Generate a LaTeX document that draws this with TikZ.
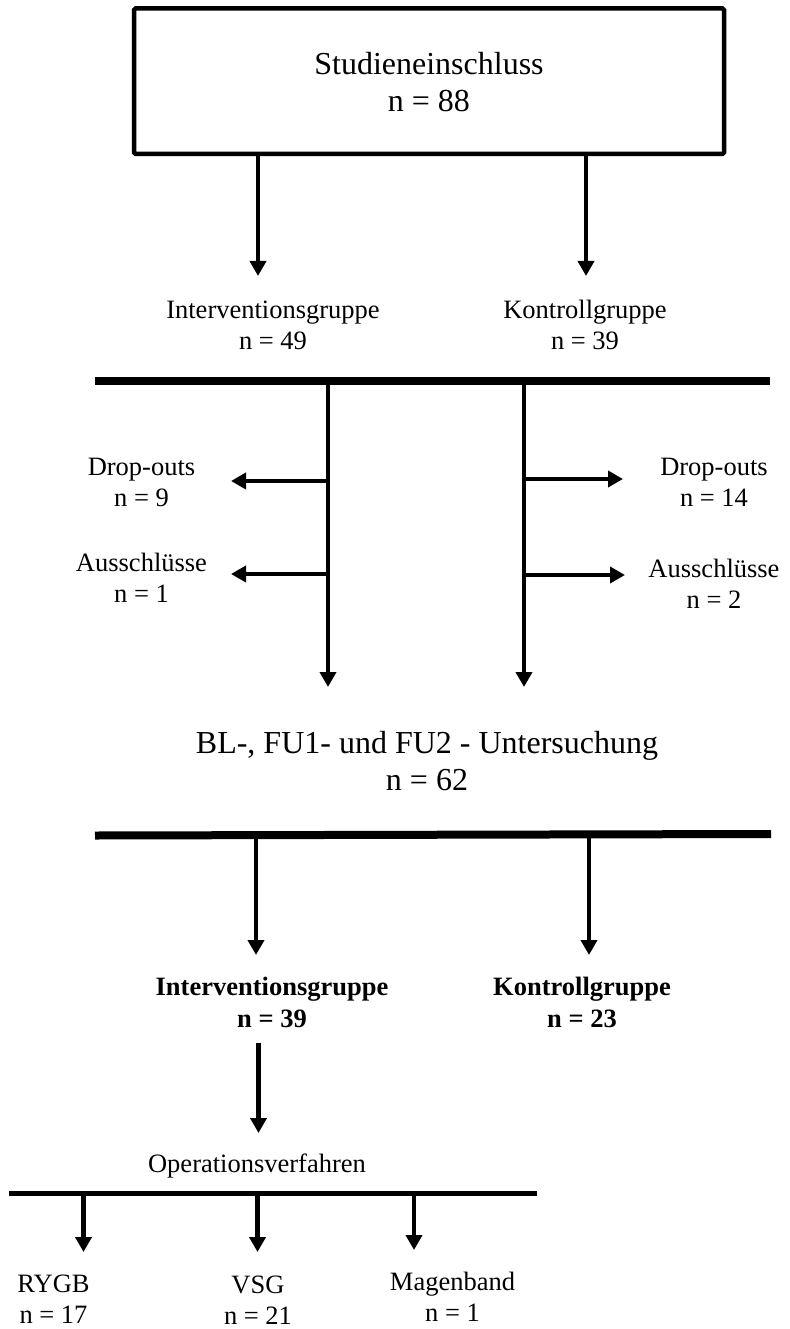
\documentclass[tikz,border=0pt]{standalone}
\usepackage{fontspec}
\setmainfont{Liberation Serif}
\usetikzlibrary{arrows.meta}
\newcommand\twoline[2]{\begin{tabular}[t]{@{}c@{}}#1\\#2\end{tabular}}
\begin{document}
\begin{tikzpicture}[x=1pt,y=-1pt,
  small/.style={inner sep=0pt, anchor=base, font=\fontsize{26.5}{31}\selectfont},
  boldlbl/.style={inner sep=0pt, anchor=base, font=\fontsize{26.5}{32}\selectfont\bfseries},
  big/.style={inner sep=0pt, anchor=base, font=\fontsize{32}{37}\selectfont},
  arr/.style={line width=4.5pt, -{Triangle[length=15pt,width=16pt]}},
  bar/.style={line width=8pt},
  thinbar/.style={line width=5pt},
]
\useasboundingbox (0,0) rectangle (789,1329);

% top box
\node[draw, line width=4.5pt, rounded corners=1.5pt, inner xsep=0pt, inner ysep=0pt,
      text height=66.5pt, text depth=79pt, minimum width=590pt, anchor=base,
      font=\fontsize{32}{37}\selectfont] (start) at (429,75)
      {\twoline{Studieneinschluss}{n = 88}};

\coordinate (a1) at (258,276);
\coordinate (a2) at (586,276);
\draw[arr] (start.south -| a1) -- (a1);
\draw[arr] (start.south -| a2) -- (a2);

\node[small] (ig1) at (273,319) {\twoline{Interventionsgruppe}{n = 49}};
\node[small] (kg1) at (585,319) {\twoline{Kontrollgruppe}{n = 39}};

% bar 1
\coordinate (b1l) at (95,381);
\coordinate (b1r) at (770,381);
\draw[bar] (b1l) -- (b1r);

\coordinate (v1) at (328,687);
\coordinate (v2) at (524,687);
\draw[arr] (b1l -| v1) -- (v1);
\draw[arr] (b1l -| v2) -- (v2);

\coordinate (d1) at (231,481);
\coordinate (x1) at (231,574);
\coordinate (d2) at (623,479);
\coordinate (x2) at (625,575);
\draw[arr] (v1 |- d1) -- (d1);
\draw[arr] ([xshift=-2pt]v1 |- x1) -- (x1);
\draw[arr] (v2 |- d2) -- (d2);
\draw[arr] (v2 |- x2) -- (x2);

\node[small] (do1) at (141.5,475) {\twoline{Drop-outs}{n = 9}};
\node[small] (au1) at (141.5,571) {\twoline{Ausschlüsse}{n = 1}};
\node[small] (do2) at (714,475) {\twoline{Drop-outs}{n = 14}};
\node[small] (au2) at (714,577) {\twoline{Ausschlüsse}{n = 2}};

\node[big] (bl) at (427,753) {\twoline{BL-, FU1- und FU2 - Untersuchung}{n = 62}};

% bar 2
\coordinate (b2l) at (95,835.5);
\coordinate (b2r) at (771,834);
\draw[bar] (b2l) -- (b2r);

\coordinate (c1) at (256,955);
\coordinate (c2) at (589,955);
\draw[arr] (256,835) coordinate (c1s) -- (c1);
\draw[arr] (589,834.5) coordinate (c2s) -- (c2);

\node[boldlbl] (ig2) at (272,995) {\twoline{Interventionsgruppe}{n = 39}};
\node[boldlbl] (kg2) at (582,995) {\twoline{Kontrollgruppe}{n = 23}};

\coordinate (e0) at (258.5,1043);
\coordinate (e1) at (258.5,1133);
\draw[arr] (e0) -- (e1);

\node[small] (op) at (257,1172) {Operationsverfahren};

% bar 3
\coordinate (b3l) at (9,1193);
\coordinate (b3r) at (537,1193);
\draw[thinbar] (b3l) -- (b3r);

\coordinate (f1) at (83.5,1252);
\coordinate (f2) at (257.5,1252);
\coordinate (f3) at (414,1250);
\draw[arr] (b3l -| f1) -- (f1);
\draw[arr] (b3l -| f2) -- (f2);
\draw[arr] (b3l -| f3) -- (f3);

\node[small] (rygb) at (53.5,1292) {\twoline{RYGB}{n = 17}};
\node[small] (vsg) at (258,1293.5) {\twoline{VSG}{n = 21}};
\node[small] (mb) at (452.5,1290) {\twoline{Magenband}{n = 1}};
\end{tikzpicture}
\end{document}
